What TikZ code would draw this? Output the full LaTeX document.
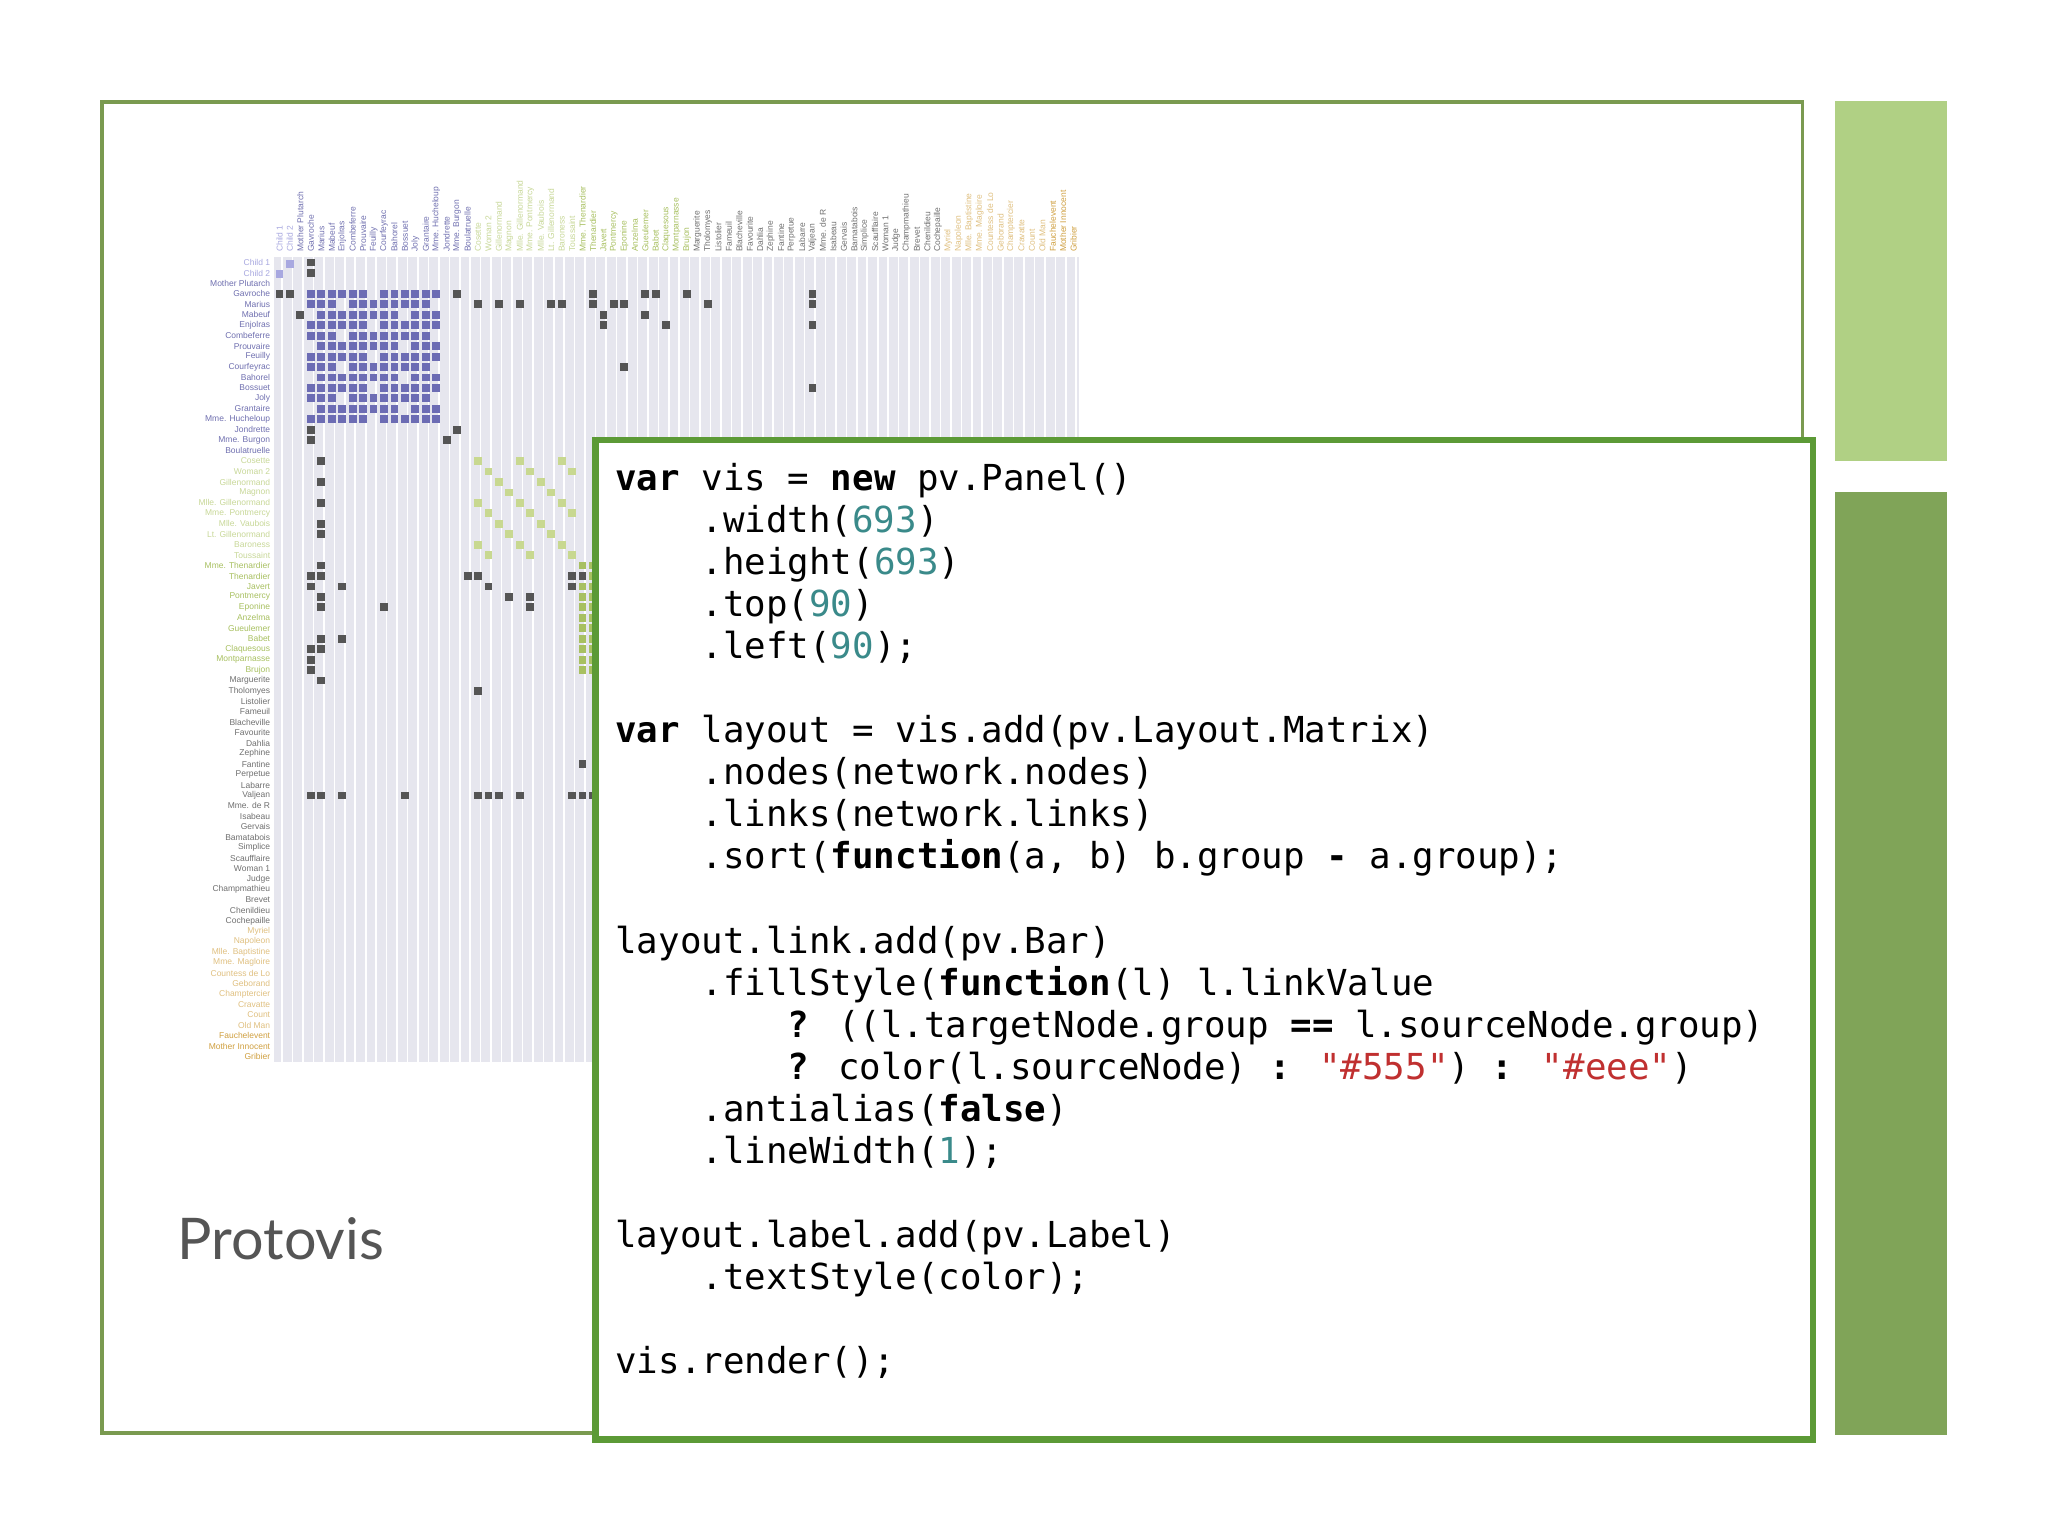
\documentclass[tikz,border=0pt]{standalone}
\usepackage{fontspec}
\setmainfont{Liberation Sans}
\newfontfamily\codefont{DejaVu Sans Mono}
\newfontfamily\titlefont{Lato}
\definecolor{frame}{HTML}{7A9A50}
\definecolor{barlight}{HTML}{B0D084}
\definecolor{bardark}{HTML}{80A458}
\definecolor{boxgreen}{HTML}{5C9A36}
\definecolor{numc}{HTML}{3A8A8A}
\definecolor{strc}{HTML}{C03030}
\definecolor{cellbg}{HTML}{E6E6EE}
\definecolor{darkc}{HTML}{555555}
\definecolor{purp}{HTML}{6C6CB4}
\definecolor{grn}{HTML}{C8D890}
\definecolor{grn2}{HTML}{A8C060}
\definecolor{ga}{HTML}{A8A8E0}
\definecolor{gb}{HTML}{7070B0}
\definecolor{gc}{HTML}{C8D898}
\definecolor{gd}{HTML}{A8C060}
\definecolor{ge}{HTML}{707070}
\definecolor{gf}{HTML}{E0C080}
\definecolor{gg}{HTML}{D0A040}
\newcommand{\ind}[1]{\hspace*{#1\dimexpr 0.602em\relax}}
\newcommand{\kw}[1]{\textbf{#1}}
\newcommand{\nm}[1]{\textcolor{numc}{#1}}
\newcommand{\st}[1]{\textcolor{strc}{#1}}
\tikzset{
  codeline/.style={anchor=base west,inner sep=0pt,font=\codefont\fontsize{27.4}{32}\selectfont},
  rowlab/.style={anchor=east,inner sep=0pt,font=\fontsize{6.5}{7}\selectfont},
  collab/.style={anchor=west,rotate=90,inner sep=0pt,font=\fontsize{6.5}{7}\selectfont},
}
\begin{document}
\begin{tikzpicture}[x=1pt,y=-1pt]
\useasboundingbox (0,0) rectangle (1568,1176);
\fill[white] (0,0) rectangle (1568,1176);
% right bars
\fill[barlight] (1405,77) rectangle (1491,353);
\fill[bardark] (1405,377) rectangle (1491,1099);
% frame
\draw[frame,line width=3pt] (78,78) rectangle (1380,1097);
% matrix background grid
\fill[cellbg] (210,197) rectangle (826,813);
\draw[white,line width=1.2pt] (210,197) grid[step=8] (826,813);
% purple block
\foreach \i in {3,...,15}{\foreach \j in {3,...,15}{
  \pgfmathtruncatemacro{\t}{mod(\i*7+\j*3,9)}
  \ifnum\t>0 \fill[purp] ({210+8*\i+1},{197+8*\j+1}) rectangle +(6,6);\fi}}
% green block
\foreach \i in {19,...,28}{\foreach \j in {19,...,28}{
  \pgfmathtruncatemacro{\t}{mod(\i*5+\j*11,4)}
  \ifnum\t=0 \fill[grn] ({210+8*\i+1},{197+8*\j+1}) rectangle +(6,6);\fi}}
\foreach \i in {29,...,39}{\foreach \j in {29,...,39}{
  \fill[grn2] ({210+8*\i+1},{197+8*\j+1}) rectangle +(6,6);}}
\fill[ga] (219,199) rectangle +(6,6);
\fill[ga] (211,207) rectangle +(6,6);
% dark cells
\foreach \c/\r in {3/0,3/1,0/3,1/3,17/3,30/3,35/3,36/3,39/3,51/3,
  19/4,21/4,23/4,26/4,27/4,30/4,32/4,33/4,41/4,51/4,2/5,31/5,35/5,31/6,37/6,51/6,
  33/10,51/12,17/16,16/17,3/16,3/17,
  4/19,4/21,4/23,4/25,4/26,4/29,4/30,4/32,4/33,4/36,4/37,4/40,
  3/30,3/31,3/37,3/38,3/39,
  18/30,19/30,28/30,29/30,6/31,20/31,28/31,22/32,24/32,10/33,24/33,6/36,19/41,
  3/51,4/51,6/51,12/51,19/51,20/51,21/51,23/51,28/51,29/51,30/51,29/48}
  {\fill[darkc] ({210+8*\c+1},{197+8*\r+1}) rectangle +(6,6);}
% labels
\foreach \n [count=\k from 0] in {Child 1,Child 2,Mother Plutarch,Gavroche,Marius,Mabeuf,Enjolras,Combeferre,Prouvaire,Feuilly,Courfeyrac,Bahorel,Bossuet,Joly,Grantaire,Mme. Hucheloup,Jondrette,Mme. Burgon,Boulatruelle,Cosette,Woman 2,Gillenormand,Magnon,Mlle. Gillenormand,Mme. Pontmercy,Mlle. Vaubois,Lt. Gillenormand,Baroness,Toussaint,Mme. Thenardier,Thenardier,Javert,Pontmercy,Eponine,Anzelma,Gueulemer,Babet,Claquesous,Montparnasse,Brujon,Marguerite,Tholomyes,Listolier,Fameuil,Blacheville,Favourite,Dahlia,Zephine,Fantine,Perpetue,Labarre,Valjean,Mme. de R,Isabeau,Gervais,Bamatabois,Simplice,Scaufflaire,Woman 1,Judge,Champmathieu,Brevet,Chenildieu,Cochepaille,Myriel,Napoleon,Mlle. Baptistine,Mme. Magloire,Countess de Lo,Geborand,Champtercier,Cravatte,Count,Old Man,Fauchelevent,Mother Innocent,Gribier}{
  \ifnum\k<2 \def\cc{ga}\else\ifnum\k<19 \def\cc{gb}\else\ifnum\k<29 \def\cc{gc}\else\ifnum\k<40 \def\cc{gd}\else\ifnum\k<64 \def\cc{ge}\else\ifnum\k<74 \def\cc{gf}\else\def\cc{gg}\fi\fi\fi\fi\fi\fi
  \node[rowlab,text=\cc] (r\k) at (207,{201+8*\k}) {\n};
  \node[collab,text=\cc] (c\k) at ({214+8*\k},193) {\n};
}
% title
\node[anchor=base west,inner sep=0pt,text=darkc,font=\titlefont\fontsize{44}{50}\selectfont] (title) at (136,964) {Protovis};
% code box
\draw[boxgreen,line width=5pt,fill=white] (456,337) rectangle (1388,1102);
\node[codeline] (l1) at (471,375.5) {\kw{var} vis = \kw{new} pv.Panel()};
\node[codeline] (l2) at (471,407.7) {\ind{4}.width(\nm{693})};
\node[codeline] (l3) at (471,439.9) {\ind{4}.height(\nm{693})};
\node[codeline] (l4) at (471,472.1) {\ind{4}.top(\nm{90})};
\node[codeline] (l5) at (471,504.3) {\ind{4}.left(\nm{90});};
\node[codeline] (l7) at (471,568.7) {\kw{var} layout = vis.add(pv.Layout.Matrix)};
\node[codeline] (l8) at (471,600.9) {\ind{4}.nodes(network.nodes)};
\node[codeline] (l9) at (471,633.1) {\ind{4}.links(network.links)};
\node[codeline] (l10) at (471,665.3) {\ind{4}.sort(\kw{function}(a, b) b.group \kw{-} a.group);};
\node[codeline] (l12) at (471,729.7) {layout.link.add(pv.Bar)};
\node[codeline] (l13) at (471,761.9) {\ind{4}.fillStyle(\kw{function}(l) l.linkValue};
\node[codeline] (l14) at (471,794.1) {\ind{8}\kw{?} ((l.targetNode.group \kw{==} l.sourceNode.group)};
\node[codeline] (l15) at (471,826.3) {\ind{8}\kw{?} color(l.sourceNode) \kw{:} \st{"\#555"}) \kw{:} \st{"\#eee"})};
\node[codeline] (l16) at (471,858.5) {\ind{4}.antialias(\kw{false})};
\node[codeline] (l17) at (471,890.7) {\ind{4}.lineWidth(\nm{1});};
\node[codeline] (l19) at (471,955.1) {layout.label.add(pv.Label)};
\node[codeline] (l20) at (471,987.3) {\ind{4}.textStyle(color);};
\node[codeline] (l22) at (471,1051.7) {vis.render();};
\end{tikzpicture}
\end{document}
